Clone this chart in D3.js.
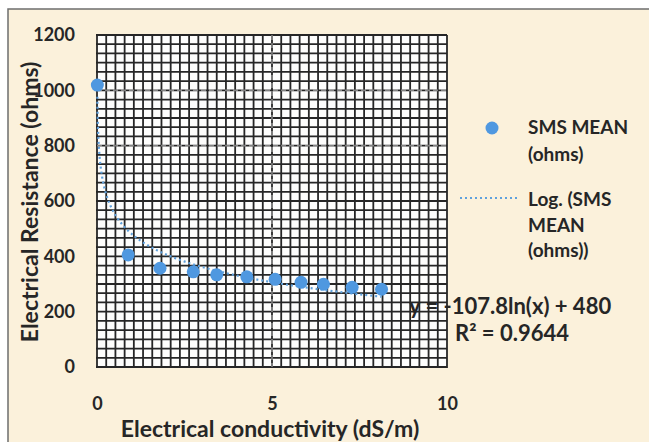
<!DOCTYPE html>
<html>
<head>
<meta charset="utf-8">
<script src="https://cdn.jsdelivr.net/npm/d3@7"></script>
<style>
  body { margin: 0; background: #fff; }
  text { font-family: Lato, "Open Sans", sans-serif; font-weight: bold; fill: #262626; }
</style>
</head>
<body>
<div id="chart"></div>
<script>
const width = 649;
const height = 442;

// SMS MEAN (ohms) readings
const conductivity = [0.01, 0.89, 1.8, 2.75, 3.42, 4.28, 5.09, 5.83, 6.47, 7.29, 8.13];
const resistance = [1019, 405, 357, 344, 333, 326, 317, 306, 299, 288, 281];

// logarithmic trendline shown on the chart: y = a ln(x) + b
const trendA = -107.8;
const trendB = 480;

const yTicks = [0, 200, 400, 600, 800, 1000, 1200];
const xTicks = [0, 5, 10];
const legendLabels = [["SMS MEAN", "(ohms)"], ["Log. (SMS", "MEAN", "(ohms))"]];

const svg = d3.select("#chart")
    .append("svg")
    .attr("width", width)
    .attr("height", height);

// chart area frame
svg.append("rect")
    .attr("x", 8).attr("y", 9)
    .attr("width", width).attr("height", height)
    .attr("fill", "#fbf1db")
    .attr("stroke", "#6e6e6e")
    .attr("stroke-width", 1.5);

const x = d3.scaleLinear().domain([0, 10]).range([97, 447]);
const y = d3.scaleLinear().domain([0, 1200]).range([367, 35]);

// plot area (graph-paper look)
svg.append("rect")
    .attr("x", x(0)).attr("y", y(1200))
    .attr("width", x(10) - x(0)).attr("height", y(0) - y(1200))
    .attr("fill", "#fdfdfc");

const grid = svg.append("g").attr("stroke", "#262626").attr("stroke-width", 1.8);
d3.range(0, 39).forEach(i => {
    const gx = x(i * 10 / 38);
    grid.append("line").attr("x1", gx).attr("x2", gx).attr("y1", y(1200)).attr("y2", y(0) + 1);
});
d3.range(0, 37).forEach(i => {
    const gy = y(i * 1200 / 36);
    grid.append("line").attr("x1", x(0) - 1).attr("x2", x(10)).attr("y1", gy).attr("y2", gy);
});

// major gridlines show as faint light dashes
const major = svg.append("g").attr("stroke", "#f2f2f2").attr("stroke-width", 1.6)
    .attr("stroke-dasharray", "5,3").attr("opacity", 0.45);
[800, 1000].forEach(v => {
    major.append("line").attr("x1", x(0)).attr("x2", x(10)).attr("y1", y(v)).attr("y2", y(v));
});
major.append("line").attr("x1", x(5)).attr("x2", x(5)).attr("y1", y(1200)).attr("y2", y(0));

// axes (labels only)
const yAxis = svg.append("g")
    .attr("transform", "translate(" + x(0) + ",0)")
    .call(d3.axisLeft(y).tickValues(yTicks).tickFormat(d3.format("d")).tickSize(0).tickPadding(22));
const xAxis = svg.append("g")
    .attr("transform", "translate(0," + y(0) + ")")
    .call(d3.axisBottom(x).tickValues(xTicks).tickFormat(d3.format("d")).tickSize(0).tickPadding(30));
[yAxis, xAxis].forEach(a => {
    a.select(".domain").remove();
    a.selectAll("text").style("font-size", "18px")
        .style("font-family", "Lato, 'Open Sans', sans-serif").attr("fill", "#262626");
});

// trendline
const trendPts = d3.range(0, 201).map(i => {
    const xv = d3.min(conductivity) + (d3.max(conductivity) - d3.min(conductivity)) * Math.pow(i / 200, 2);
    return [xv, trendA * Math.log(xv) + trendB];
});
svg.append("path")
    .datum(trendPts)
    .attr("fill", "none")
    .attr("stroke", "#5ea0dc")
    .attr("stroke-width", 2.2)
    .attr("stroke-dasharray", "2,3")
    .attr("d", d3.line().x(d => x(d[0])).y(d => y(d[1])));

// points
svg.append("g").selectAll("circle")
    .data(conductivity.map((c, i) => [c, resistance[i]]))
    .enter()
    .append("circle")
    .attr("cx", d => x(d[0]))
    .attr("cy", d => y(d[1]))
    .attr("r", 6.5)
    .attr("fill", "#4f98e0");

// axis titles
svg.append("text")
    .attr("x", 270).attr("y", 437)
    .attr("text-anchor", "middle")
    .style("font-size", "23px")
    .text("Electrical conductivity (dS/m)");
svg.append("text")
    .attr("transform", "translate(38,202) rotate(-90)")
    .attr("text-anchor", "middle")
    .style("font-size", "23px")
    .text("Electrical Resistance (ohms)");

// legend
const legend = svg.append("g");
legend.append("circle").attr("cx", 492).attr("cy", 128).attr("r", 6.5).attr("fill", "#4f98e0");
legend.append("line")
    .attr("x1", 460).attr("x2", 518).attr("y1", 198).attr("y2", 198)
    .attr("stroke", "#5ea0dc").attr("stroke-width", 2.2).attr("stroke-dasharray", "2,3");
[[134, 161], [206, 232, 257]].forEach((ys, k) => {
    ys.forEach((ly, j) => {
        legend.append("text").attr("x", 528).attr("y", ly)
            .style("font-size", "19px").text(legendLabels[k][j]);
    });
});

// equation
svg.append("text").attr("x", 409).attr("y", 314).style("font-size", "22px")
    .text("y = -107.8ln(x) + 480");
svg.append("text").attr("x", 455).attr("y", 341).style("font-size", "22px")
    .text("R² = 0.9644");
</script>
</body>
</html>
